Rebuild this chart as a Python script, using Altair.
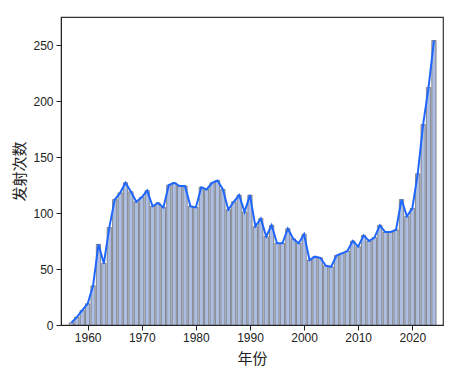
import altair as alt
import pandas as pd

years = list(range(1957, 2025))
launches = [
    2, 7, 13, 19, 35, 72, 55, 87, 112, 118,
    127, 119, 110, 114, 120, 106, 109, 105, 125, 127,
    124, 124, 106, 105, 123, 121, 127, 129, 121, 103,
    110, 116, 101, 116, 88, 95, 79, 89, 73, 73,
    86, 77, 73, 81, 58, 61, 60, 53, 52, 62,
    64, 66, 75, 70, 80, 75, 78, 89, 83, 83,
    85, 112, 97, 104, 135, 179, 212, 254,
]
x_ticks = [1960, 1970, 1980, 1990, 2000, 2010, 2020]
y_ticks = [0, 50, 100, 150, 200, 250]

df = pd.DataFrame({"year": years, "count": launches})

x_enc = alt.X(
    "year:Q",
    scale=alt.Scale(domain=[1956, 2024.75], nice=False, zero=False),
    axis=alt.Axis(
        title="年份", values=x_ticks, format="d", grid=False,
        labelFont="Liberation Sans", labelFontSize=12, labelColor="#222",
        tickColor="#222", tickSize=5, labelPadding=2, domainColor="#222",
        titleFont="Noto Sans CJK SC", titleFontWeight="normal", titleFontSize=15,
        titleColor="#222", titlePadding=8,
    ),
)
y_enc = alt.Y(
    "count:Q",
    scale=alt.Scale(domain=[0, 275], nice=False),
    axis=alt.Axis(
        title="发射次数", values=y_ticks, grid=False,
        labelFont="Liberation Sans", labelFontSize=12, labelColor="#222",
        tickColor="#222", tickSize=5, labelPadding=3, domainColor="#222",
        titleFont="Noto Sans CJK SC", titleFontWeight="normal", titleFontSize=15,
        titleColor="#222", titlePadding=5,
    ),
)

bars = alt.Chart(df).mark_bar(
    size=4.3, fill="#aebee0", stroke="#333333", strokeWidth=0.5
).encode(x=x_enc, y=y_enc)

line = alt.Chart(df).mark_line(color="#1f66ff", strokeWidth=2).encode(
    x="year:Q", y="count:Q"
)

chart = (
    alt.layer(bars, line)
    .properties(
        width=382, height=308,
        background="white",
        autosize=alt.AutoSizeParams(type="none"),
        padding={"left": 53, "top": 9, "right": 20, "bottom": 50},
    )
    .configure_view(stroke="#333333", strokeWidth=1.2)
)

chart.save("out.html", embed_options={"renderer": "svg", "actions": False})
